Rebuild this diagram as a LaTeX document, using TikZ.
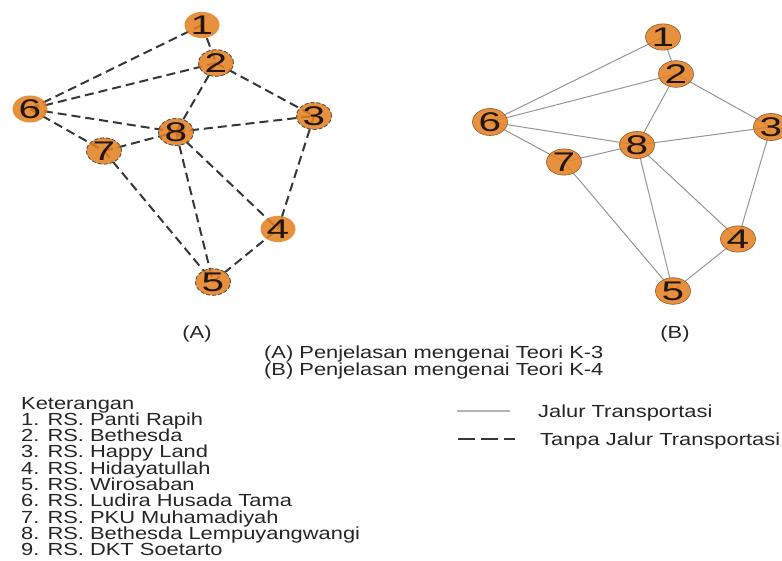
\documentclass[tikz,border=0pt]{standalone}
\usepackage{fontspec}
\setmainfont{Liberation Sans}[FakeStretch=1.25]
\newfontfamily\digitfont{Liberation Sans}[FakeStretch=1.5]
\usetikzlibrary{shapes.geometric}
\pgfdeclarelayer{bglayer}
\pgfdeclarelayer{edgelayer}
\pgfsetlayers{bglayer,edgelayer,main}
\definecolor{nodeorange}{RGB}{228,128,32}
\definecolor{dashgray}{RGB}{55,55,55}
\definecolor{linegray}{RGB}{150,150,150}
\definecolor{digitcol}{RGB}{35,22,12}
\definecolor{rimbrown}{RGB}{150,90,40}
\tikzset{
  vtx/.style={ellipse, minimum width=35pt, minimum height=26pt, inner sep=0pt,
    fill=nodeorange, fill opacity=0.86, text opacity=1, text=digitcol,
    font=\digitfont\fontsize{27}{27}\selectfont},
  vtxAn/.style={vtx},
  vtxA/.style={vtx, draw=dashgray, draw opacity=0.8, line width=0.9pt, dash pattern=on 4pt off 2pt},
  vtxB/.style={vtx, draw=rimbrown, line width=0.6pt},
  dashedge/.style={draw=dashgray, line width=2pt, dash pattern=on 9pt off 5pt},
  solidedge/.style={draw=linegray, line width=1pt},
  txt/.style={font=\fontsize{17.5}{16.3}\selectfont, text=black!85, inner sep=0pt},
}
\begin{document}
\begin{tikzpicture}[x=1pt,y=-1pt]
\useasboundingbox (0,0) rectangle (782,561);
\clip (0,0) rectangle (782,561);
\begin{pgfonlayer}{bglayer}
\fill[white] (0,0) rectangle (782,561);
\end{pgfonlayer}

% Graph A
\node[vtxAn] (a1) at (202,25) {1};
\node[vtxA]  (a2) at (216,63) {2};
\node[vtxA]  (a3) at (314,116) {3};
\node[vtxAn] (a4) at (278,229) {4};
\node[vtxA]  (a5) at (213,282) {5};
\node[vtxAn] (a6) at (30,109) {6};
\node[vtxA]  (a7) at (104,151) {7};
\node[vtxA]  (a8) at (176,132) {8};

% Graph B
\node[vtxB] (b1) at (663,37) {1};
\node[vtxB] (b2) at (676,74) {2};
\node[vtxB] (b3) at (771,127) {3};
\node[vtxB] (b4) at (738,239) {4};
\node[vtxB] (b5) at (673,291) {5};
\node[vtxB] (b6) at (490,122) {6};
\node[vtxB] (b7) at (564,162) {7};
\node[vtxB] (b8) at (637,145) {8};

\begin{pgfonlayer}{edgelayer}
\foreach \u/\v in {1/2,1/6,2/6,2/3,2/8,6/8,6/7,7/8,8/3,3/4,8/4,8/5,7/5,5/4}{
  \draw[dashedge] (a\u.center) -- (a\v.center);
  \draw[solidedge] (b\u.center) -- (b\v.center);
}
\end{pgfonlayer}

% Sub-labels
\node[txt] (labA) at (197,334) {(A)};
\node[txt] (labB) at (675,334) {(B)};
\node[txt, anchor=base west] (capA) at (264,359) {(A) Penjelasan mengenai Teori K-3};
\node[txt, anchor=base west] (capB) at (264,375) {(B) Penjelasan mengenai Teori K-4};

% Keterangan
\foreach \t [count=\i from 0] in {Keterangan, 1. RS. Panti Rapih, 2. RS. Bethesda,
  3. RS. Happy Land, 4. RS. Hidayatullah, 5. RS. Wirosaban, 6. RS. Ludira Husada Tama,
  7. RS. PKU Muhamadiyah, 8. RS. Bethesda Lempuyangwangi, 9. RS. DKT Soetarto}{
  \node[txt, anchor=base west] (ket\i) at (21,409+16.3*\i) {\t};
}

% Legend
\coordinate (ls1) at (457,411);
\coordinate (le1) at (510,411);
\coordinate (ls2) at (458,439);
\coordinate (le2) at (515,439);
\draw[draw=black!30, line width=1.2pt] (ls1) -- (le1);
\draw[draw=dashgray, line width=2.5pt, dash pattern=on 17pt off 6pt] (ls2) -- (le2);
\node[txt, anchor=base west] (leg1) at (538,417) {Jalur Transportasi};
\node[txt, anchor=base west] (leg2) at (540,445) {Tanpa Jalur Transportasi};
\end{tikzpicture}
\end{document}
